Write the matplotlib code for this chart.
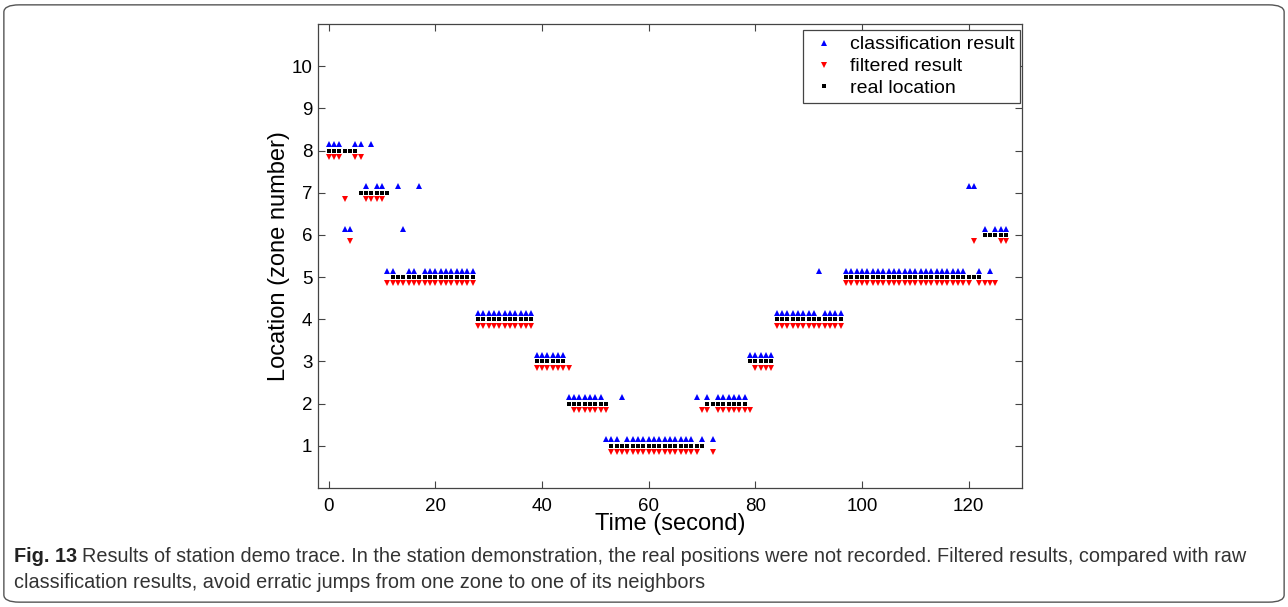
import matplotlib
matplotlib.use("Agg")
import matplotlib.pyplot as plt
from matplotlib.patches import FancyBboxPatch
import numpy as np

plt.rcParams['font.family'] = ['Liberation Sans', 'DejaVu Sans']

# zone per second, t = 0..127
classification = ([8, 8, 8, 6, 6, 8, 8, 7, 8, 7, 7, 5, 5, 7, 6, 5, 5, 7] + [5] * 10
                  + [4] * 11 + [3] * 6 + [2] * 7
                  + [1, 1, 1, 2] + [1] * 13 + [2, 1, 2, 1] + [2] * 6
                  + [3] * 5 + [4] * 8 + [5] + [4] * 4
                  + [5] * 23 + [7, 7, 5, 6, 5, 6, 6, 6])
filtered = ([8, 8, 8, 7, 6, 8, 8, 7, 7, 7, 7] + [5] * 17
            + [4] * 11 + [3] * 7 + [2] * 7
            + [1] * 17 + [2, 2, 1] + [2] * 7
            + [3] * 4 + [4] * 13
            + [5] * 24 + [6, 5, 5, 5, 5, 6, 6])
real = ([8] * 6 + [7] * 6 + [5] * 16
        + [4] * 11 + [3] * 6 + [2] * 8
        + [1] * 18 + [2] * 8 + [3] * 5 + [4] * 13
        + [5] * 26 + [6] * 5)
time_s = np.arange(len(real))

fig = plt.figure(figsize=(12.88, 6.07), dpi=100)
ax = fig.add_axes([318 / 1288, 1 - 488 / 607, 704 / 1288, 464 / 607])

off = 0.15
ax.plot(time_s, np.array(classification) + off, '^', color='#0000ff', ms=4.6, mew=0,
        ls='none', label='classification result')
ax.plot(time_s, np.array(filtered) - off, 'v', color='#ff0000', ms=4.6, mew=0,
        ls='none', label='filtered result')
ax.plot(time_s, real, 's', color='black', ms=3.0, mew=0, ls='none', label='real location')

ax.set_xlim(-2, 130)
ax.set_ylim(0, 11)
ax.set_xticks(range(0, 121, 20))
ax.set_yticks(range(1, 11))
ax.tick_params(direction='in', top=True, right=True, labelsize=13.5, length=5,
               color='#444444', pad=4)
ax.tick_params(axis='x', pad=7)
for s in ax.spines.values():
    s.set_color('#444444')
    s.set_linewidth(0.9)
ax.set_xlabel('Time (second)', fontsize=17)
ax.xaxis.set_label_coords(0.5, -0.053)
ax.set_ylabel('Location (zone number)', fontsize=17, labelpad=1)

leg = ax.legend(loc='upper right', fontsize=14, handlelength=1.6,
                handletextpad=0.5, borderpad=0.3, labelspacing=0.22,
                fancybox=False, framealpha=1, edgecolor='#444444',
                bbox_to_anchor=(1020 / 1288, 1 - 30 / 607), bbox_transform=fig.transFigure,
                borderaxespad=0)
leg.get_frame().set_linewidth(0.9)

# outer caption frame
frame = FancyBboxPatch((0.003, 0.008), 0.994, 0.984, boxstyle='round,pad=0,rounding_size=0.012',
                       transform=fig.transFigure, fill=False, ec='#555555', lw=1.0)
fig.patches.append(frame)

cap_font = ['Liberation Sans', 'DejaVu Sans']
cap_size = 14.3
y1 = 1 - 556 / 607
y2 = 1 - 583 / 607
t1 = fig.text(0.011, y1, 'Fig. 13', fontsize=cap_size, fontweight='bold', family=cap_font,
              va='center', color='#222222')
fig.canvas.draw()
bb = t1.get_window_extent().transformed(fig.transFigure.inverted())
fig.text(bb.x1 + 0.004, y1, 'Results of station demo trace. In the station demonstration, the real '
         'positions were not recorded. Filtered results, compared with raw',
         fontsize=cap_size, family=cap_font, va='center', color='#333333')
fig.text(0.011, y2, 'classification results, avoid erratic jumps from one zone to one of its neighbors',
         fontsize=cap_size, family=cap_font, va='center', color='#333333')

fig.savefig('out.png', dpi=100)
